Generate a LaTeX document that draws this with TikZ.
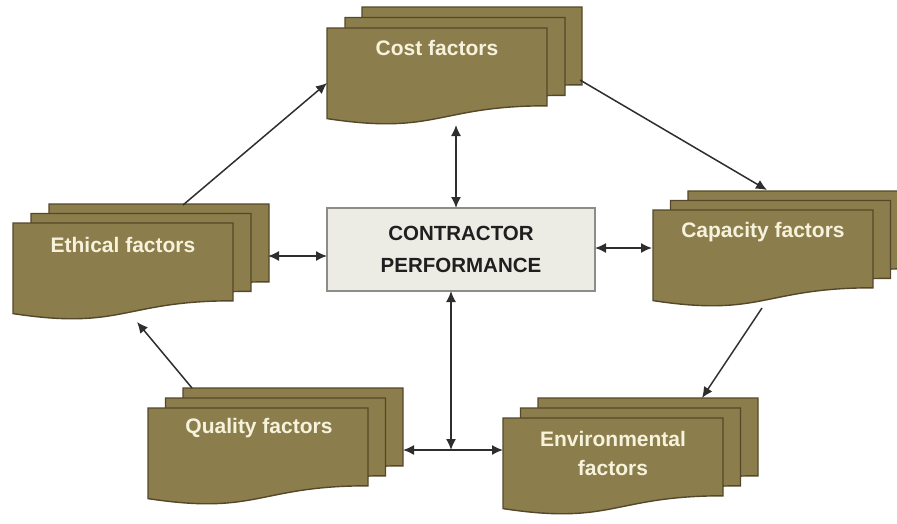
\documentclass[tikz,border=0pt]{standalone}
\usepackage{fontspec}
\setmainfont{Liberation Sans}
\usetikzlibrary{arrows.meta}
\definecolor{docfill}{HTML}{8C7E4C}
\definecolor{docline}{HTML}{54482A}
\definecolor{doctxt}{HTML}{F6F2DC}
\definecolor{boxfill}{HTML}{EDECE4}
\definecolor{boxline}{HTML}{8C8C88}
\definecolor{arrcol}{HTML}{2E2E2E}
\tikzset{
  sheetstyle/.style={fill=docfill, draw=docline, line width=1.4pt},
  sheet/.pic={\filldraw[sheetstyle] (0,0) -- (220,0) -- (220,77.8) .. controls (110,77.8) and (110,107.4) .. (0,90.6) -- cycle;},
  doctext/.style={text=doctxt, font=\bfseries\fontsize{21}{29}\selectfont, align=center, inner sep=0pt},
  centerbox/.style={fill=boxfill, draw=boxline, line width=1.6pt, minimum width=268pt, minimum height=83pt, align=center, text=black!88, font=\bfseries\fontsize{20.5}{32}\selectfont},
  arr/.style={draw=arrcol, line width=1.5pt, -{Latex[length=11pt,width=10pt]}},
  darr/.style={draw=arrcol, line width=1.5pt, {Latex[length=11pt,width=10pt]}-{Latex[length=11pt,width=10pt]}}
}
\begin{document}
\begin{tikzpicture}[x=1pt,y=-1pt]
\useasboundingbox (0,0) rectangle (897,523);
\clip (0,0) rectangle (897,523);
% Cost factors
\pic at (362,7) {sheet}; \pic at (345,17.5) {sheet}; \pic at (327,28) {sheet};
\node[doctext] (cost) at (437,48) {Cost factors};
% Ethical factors
\pic at (49,204) {sheet}; \pic at (31,213.5) {sheet}; \pic at (13,223) {sheet};
\node[doctext] (ethical) at (123,245) {Ethical factors};
% Capacity factors
\pic at (688,191) {sheet}; \pic at (670.5,200.5) {sheet}; \pic at (653,210) {sheet};
\node[doctext] (capacity) at (763,232) {Capacity factors};
% Quality factors
\pic at (183,388) {sheet}; \pic at (165.5,398) {sheet}; \pic at (148,408) {sheet};
\node[doctext] (quality) at (259,428) {Quality factors};
% Environmental factors
\pic at (538,398) {sheet}; \pic at (520.5,408) {sheet}; \pic at (503,418) {sheet};
\node[doctext] (env) at (613,453) {Environmental\\factors};
% Center
\node[centerbox] (cp) at (461,249.5) {CONTRACTOR\\PERFORMANCE};
% connector ends
\coordinate (ethOut) at (183,205);
\coordinate (costIn) at (327,83);
\coordinate (costOut) at (580,80);
\coordinate (capIn) at (767,190);
\coordinate (capOut) at (762,308);
\coordinate (envIn) at (702,398);
\coordinate (qualOut) at (192,388);
\coordinate (ethIn) at (137,322);
\coordinate (costBot) at (456,125);
\coordinate (cpTop) at (456,208);
\coordinate (ethRight) at (268,256);
\coordinate (cpLeft) at (327,256);
\coordinate (cpRight) at (595,248);
\coordinate (capLeft) at (652,248);
\coordinate (cpBot) at (451,291);
\coordinate (junc) at (451,450);
\coordinate (qualRight) at (403,450);
\coordinate (envLeft) at (503,450);
% connectors
\draw[arr] (ethOut) -- (costIn);
\draw[arr] (costOut) -- (capIn);
\draw[arr] (capOut) -- (envIn);
\draw[arr] (qualOut) -- (ethIn);
\draw[darr] (costBot) -- (cpTop);
\draw[darr] (ethRight) -- (cpLeft);
\draw[darr] (cpRight) -- (capLeft);
\draw[darr] (cpBot) -- (junc);
\draw[darr] (qualRight) -- (envLeft);
\end{tikzpicture}
\end{document}
